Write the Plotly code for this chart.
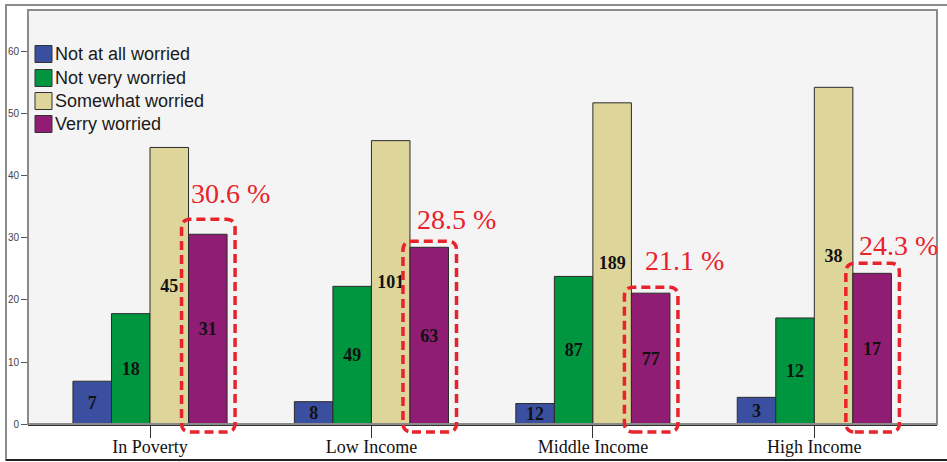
import plotly.graph_objects as go

# Income groups and worry levels (percent of each group, with respondent counts)
categories = ["In Poverty", "Low Income", "Middle Income", "High Income"]
levels = ["Not at all worried", "Not very worried", "Somewhat worried", "Verry worried"]

pct_not_at_all = [6.9, 3.6, 3.3, 4.3]
pct_not_very = [17.8, 22.2, 23.8, 17.1]
pct_somewhat = [44.6, 45.7, 51.8, 54.3]
pct_very = [30.6, 28.5, 21.1, 24.3]

n_not_at_all = [7, 8, 12, 3]
n_not_very = [18, 49, 87, 12]
n_somewhat = [45, 101, 189, 38]
n_very = [31, 63, 77, 17]

y_ticks = [0, 10, 20, 30, 40, 50, 60]

# Styling
colors = ["#3A4F9F", "#00963F", "#DDD59A", "#901C74"]
red = "#E8232B"
W, H = 947, 462
M_L, M_R, M_T, M_B = 28, 10, 10, 38
PW, PH = W - M_L - M_R, H - M_T - M_B
X0, X1 = -0.551, 3.554
Y0, Y1 = 0, 66.77
BARGAP = 0.304
BAR_W = (1 - BARGAP) / 4

pct_series = [pct_not_at_all, pct_not_very, pct_somewhat, pct_very]
n_series = [n_not_at_all, n_not_very, n_somewhat, n_very]

fig = go.Figure()
for name, pct, cnt, col in zip(levels, pct_series, n_series, colors):
    fig.add_trace(go.Bar(
        x=categories, y=pct, name=name,
        text=[str(v) for v in cnt],
        textposition="inside", insidetextanchor="middle", constraintext="none",
        textfont=dict(family="Liberation Serif", size=18, color="#111111", weight="bold"),
        textangle=0,
        marker=dict(color=col, line=dict(color="#2B2B2B", width=1)),
        showlegend=False,
        hovertemplate="%{x}<br>" + name + ": %{y}%<extra></extra>",
    ))


def px_x(p):
    return (p - M_L) / PW


def px_y(p):
    return (H - M_B - p) / PH


def cat_to_paper(c):
    return (c - X0) / (X1 - X0)


def val_to_paper(v):
    return (v - Y0) / (Y1 - Y0)


def rounded_rect(x0, y0, x1, y1, r_px=9):
    rx, ry = r_px / PW, r_px / PH
    return (f"M{x0+rx},{y0} L{x1-rx},{y0} Q{x1},{y0} {x1},{y0+ry} "
            f"L{x1},{y1-ry} Q{x1},{y1} {x1-rx},{y1} L{x0+rx},{y1} "
            f"Q{x0},{y1} {x0},{y1-ry} L{x0},{y0+ry} Q{x0},{y0} {x0+rx},{y0} Z")


shapes = []
annotations = []

# Outer frame of the figure
shapes.append(dict(type="rect", xref="paper", yref="paper",
                   x0=px_x(6), x1=px_x(952), y0=px_y(460), y1=px_y(5),
                   line=dict(color="#8C8C8C", width=2), layer="below"))
shapes.append(dict(type="line", xref="paper", yref="paper",
                   x0=px_x(6), x1=px_x(952), y0=px_y(460), y1=px_y(460),
                   line=dict(color="#222222", width=2)))
# Plot-area frame
shapes.append(dict(type="rect", xref="paper", yref="paper", x0=0, x1=1, y0=0, y1=1,
                   line=dict(color="#8A8A8A", width=2)))

# Dashed highlight boxes and percentage callouts for "Verry worried"
box_top_pad = [15, 6, 6, 10]
text_left_pad = [0, 5, 12, 4]
text_rise = [26, 22, 27, 18]
for i, v in enumerate(pct_very):
    bar_left = i + BAR_W
    left = cat_to_paper(bar_left) - 7 / PW
    right = cat_to_paper(bar_left + BAR_W) + 8 / PW
    top = val_to_paper(v) + box_top_pad[i] / PH
    bottom = -8 / PH
    shapes.append(dict(type="path", xref="paper", yref="paper",
                       path=rounded_rect(left, bottom, right, top),
                       line=dict(color=red, width=3.5, dash="9px,5px")))
    annotations.append(dict(
        x=bar_left, y=v, xref="x", yref="y", xanchor="left", yanchor="middle",
        xshift=text_left_pad[i], yshift=box_top_pad[i] + text_rise[i],
        text=f"{v} %", showarrow=False,
        font=dict(family="Liberation Serif", size=28, color=red)))

# Legend block
legend_rows = [54, 78, 101, 124]
for name, col, yc in zip(levels, colors, legend_rows):
    shapes.append(dict(type="rect", xref="paper", yref="paper",
                       x0=px_x(35), x1=px_x(52), y0=px_y(yc + 8.5), y1=px_y(yc - 8.5),
                       fillcolor=col, line=dict(color="#333333", width=1)))
    annotations.append(dict(x=px_x(53), y=px_y(yc), xref="paper", yref="paper",
                            xanchor="left", yanchor="middle", text=name, showarrow=False,
                            font=dict(family="Liberation Sans", size=18, color="#1A1A1A")))

fig.update_layout(
    width=W, height=H,
    margin=dict(l=M_L, r=M_R, t=M_T, b=M_B, autoexpand=False),
    paper_bgcolor="white", plot_bgcolor="#F4F4F4",
    barmode="group", bargap=BARGAP, bargroupgap=0,
    shapes=shapes, annotations=annotations,
    xaxis=dict(range=[X0, X1], showgrid=False, showline=True, linecolor="#333333", linewidth=1.5,
               ticks="outside", ticklen=12, tickcolor="#333333", tickwidth=1, automargin=False,
               ticklabelstandoff=-6,
               tickfont=dict(family="Liberation Serif", size=18, color="#111111")),
    yaxis=dict(range=[Y0, Y1], tickvals=y_ticks, showgrid=False, zeroline=False, automargin=False,
               showline=False, ticks="outside", ticklen=6, tickcolor="#555555",
               tickfont=dict(family="Liberation Sans", size=10, color="#444444")),
)

fig.write_html("out.html")
